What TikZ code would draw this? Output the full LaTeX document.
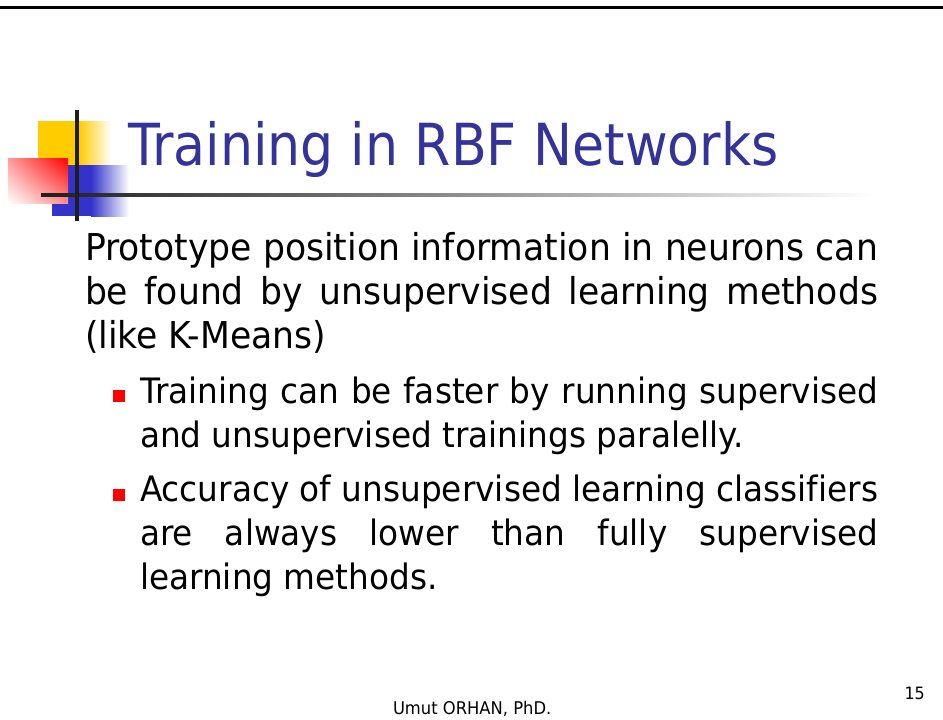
\documentclass[tikz,border=0pt]{standalone}
\usepackage{fontspec}
\usetikzlibrary{shadings}
\setmainfont{DejaVu Sans}[FakeStretch=0.935, Ligatures=NoCommon]
\newfontfamily\titlefont{DejaVu Sans}[FakeStretch=0.90]
\newcommand\jline[2]{\makebox[#1][s]{#2}}
\definecolor{titleblue}{HTML}{333399}
\definecolor{decoyellow}{HTML}{FFCC00}
\definecolor{decoblue}{HTML}{3333CC}
\definecolor{decored}{HTML}{FF0000}
\definecolor{linegray}{HTML}{1E1E1E}
\tikzset{
  txt/.style={inner sep=0pt, outer sep=0pt, anchor=base west},
  bodyfont/.style={font=\fontsize{37}{44}\selectfont},
  bulletfont/.style={font=\fontsize{35}{44}\selectfont},
  bulletbox/.style={fill=decored, draw=none},
}
\begin{document}
\begin{tikzpicture}[x=1pt,y=-1pt]
\useasboundingbox (0,0) rectangle (943,720);
\fill[white] (0,0) rectangle (943,720);
% top rule
\fill[black] (0,6) rectangle (943,9);
% decoration
\fill[decoyellow] (38,121) rectangle (79,165);
\shade[left color=decoyellow, right color=white] (79,121) rectangle (111,165);
\fill[decoblue] (52,165) rectangle (91,216);
\shade[left color=decoblue, right color=white] (91,165) rectangle (129,216);
\shade[upper right=decored, lower left=white, upper left=decored!40!white, lower right=decored!45!white] (8,158) rectangle (68,203);
\shade[left color=linegray, right color=white] (41,193.5) rectangle (875,196.5);
\fill[linegray] (75,110) rectangle (79,221);
% title
\node[txt, font=\titlefont\fontsize{58}{70}\selectfont, text=titleblue] (title) at (128,165) {Training in RBF Networks};
% body
\node[txt, bodyfont] (b1) at (85,260) {\jline{793pt}{Prototype position information in neurons can}};
\node[txt, bodyfont] (b2) at (85,304) {\jline{793pt}{be found by unsupervised learning methods}};
\node[txt, bodyfont] (b3) at (85,348) {(like K-Means)};
% bullets
\fill[bulletbox] (113,390) rectangle (125,402);
\node[txt, bulletfont] (s1a) at (140,403) {\jline{738pt}{Training can be faster by running supervised}};
\node[txt, bulletfont] (s1b) at (140,447) {and unsupervised trainings paralelly.};
\fill[bulletbox] (113,489) rectangle (125,501);
\node[txt, bulletfont] (s2a) at (140,501) {\jline{738pt}{Accuracy of unsupervised learning classifiers}};
\node[txt, bulletfont] (s2b) at (140,545) {\jline{738pt}{are always lower than fully supervised}};
\node[txt, bulletfont] (s2c) at (140,589) {learning methods.};
% footer
\node[txt, font=\fontsize{17.5}{20}\selectfont] (author) at (393,714) {Umut ORHAN, PhD.};
\node[inner sep=0pt, anchor=base east, font=\fontsize{17}{20}\selectfont] (page) at (925,699) {15};
\end{tikzpicture}
\end{document}
